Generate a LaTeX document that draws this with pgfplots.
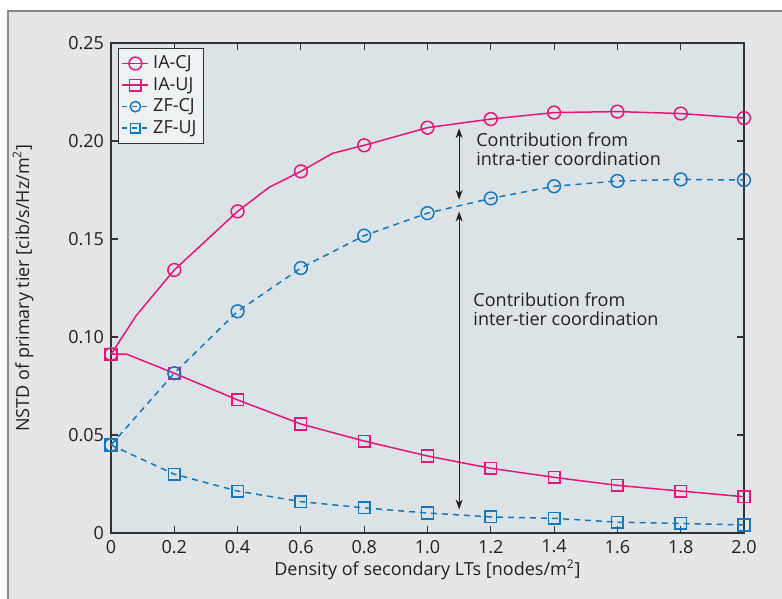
\documentclass[border=0pt]{standalone}
\usepackage{pgfplots}
\pgfplotsset{compat=1.18}
\usepackage{fontspec}
\setmainfont{Open Sans}
\usetikzlibrary{arrows.meta}
\definecolor{outerbg}{HTML}{E5E6E7}
\definecolor{plotbg}{HTML}{DBE3E6}
\definecolor{legbg}{HTML}{EEF2F3}
\definecolor{framegray}{HTML}{8A8A8A}
\definecolor{axgray}{HTML}{333333}
\definecolor{txt}{HTML}{231F20}
\definecolor{mag}{HTML}{E5167A}
\definecolor{blu}{HTML}{1478C0}
\begin{document}
\begin{tikzpicture}
\useasboundingbox (-55.5pt,-33pt) rectangle (335.5pt,266.5pt);
\draw[fill=outerbg, draw=framegray, line width=0.9pt] (-51.5pt,-45pt) rectangle (345pt,261pt);
\begin{axis}[
  at={(0,0)}, anchor=south west,
  scale only axis, width=316.5pt, height=245pt,
  xmin=0, xmax=2.0, ymin=0, ymax=0.25,
  axis background/.style={fill=plotbg},
  axis line style={axgray, line width=0.6pt},
  tick style={axgray, line width=0.6pt},
  tick align=inside, major tick length=3.5pt,
  xtick={0,0.2,0.4,0.6,0.8,1.0,1.2,1.4,1.6,1.8,2.0},
  xticklabels={0,0.2,0.4,0.6,0.8,1.0,1.2,1.4,1.6,1.8,2.0},
  ytick={0,0.05,0.10,0.15,0.20,0.25},
  yticklabels={0,0.05,0.10,0.15,0.20,0.25},
  /pgf/number format/assume math mode=true,
  font=\fontsize{9}{11}\selectfont\color{txt},
  ticklabel style={font=\fontsize{9}{11}\selectfont\color{txt}},
  xlabel={Density of secondary LTs [nodes/m\textsuperscript{2}]},
  ylabel={NSTD of primary tier [cib/s/Hz/m\textsuperscript{2}]},
  xlabel style={at={(axis description cs:0.5,-0.0755)}, anchor=center},
  ylabel style={at={(axis description cs:-0.139,0.5)}, anchor=center},
  legend style={at={(rel axis cs:0.011,0.99)}, anchor=north west,
    draw=axgray, fill=legbg, line width=0.6pt, inner sep=1.5pt,
    font=\fontsize{9}{10}\selectfont\color{txt}, row sep=-1.2pt},
  legend cell align=left,
  legend image code/.code={\draw[mark repeat=2,mark phase=2,#1] plot coordinates {(0cm,0cm) (0.23cm,0cm) (0.46cm,0cm)};},
]
\addplot[mag, line width=0.75pt, mark=o, mark size=3.2pt, forget plot,
  mark indices={1,3,4,6,8,9,10,11,12,13,14}] coordinates {
(0,0.0912) (0.08,0.111) (0.2,0.1342) (0.4,0.1641) (0.5,0.1764) (0.6,0.1845) (0.7,0.1937) (0.8,0.1978) (1.0,0.2068) (1.2,0.2112) (1.4,0.2145) (1.6,0.2150) (1.8,0.2140) (2.0,0.2117)};
\addplot[mag, line width=0.75pt, mark=square, mark size=2.9pt, forget plot,
  mark indices={1,3,4,5,6,7,8,9,10,11,12}] coordinates {
(0,0.0912) (0.05,0.0912) (0.2,0.0815) (0.4,0.0679) (0.6,0.0556) (0.8,0.0469) (1.0,0.0393) (1.2,0.0330) (1.4,0.0284) (1.6,0.0243) (1.8,0.0214) (2.0,0.0185)};
\addplot[blu, line width=0.75pt, dash pattern=on 3pt off 2.5pt, mark=o, mark size=3.2pt, mark options={solid}, forget plot] coordinates {
(0,0.0449) (0.2,0.0815) (0.4,0.1131) (0.6,0.1352) (0.8,0.1517) (1.0,0.1632) (1.2,0.1707) (1.4,0.1769) (1.6,0.1796) (1.8,0.1804) (2.0,0.1801)};
\addplot[blu, line width=0.75pt, dash pattern=on 3pt off 2.5pt, mark=square, mark size=2.9pt, mark options={solid}, forget plot] coordinates {
(0,0.0449) (0.2,0.0300) (0.4,0.0214) (0.6,0.0160) (0.8,0.0128) (1.0,0.0102) (1.2,0.0082) (1.4,0.0075) (1.6,0.0055) (1.8,0.0049) (2.0,0.0041)};
\addlegendimage{mag, line width=0.75pt, mark=o, mark size=3.2pt}
\addlegendentry{IA-CJ}
\addlegendimage{mag, line width=0.75pt, mark=square, mark size=2.9pt}
\addlegendentry{IA-UJ}
\addlegendimage{blu, line width=0.75pt, dash pattern=on 2.5pt off 2.5pt, mark=o, mark size=2.6pt, mark options={solid}}
\addlegendentry{ZF-CJ}
\addlegendimage{blu, line width=0.75pt, dash pattern=on 2.5pt off 2.5pt, mark=square, mark size=2.4pt, mark options={solid}}
\addlegendentry{ZF-UJ}
\draw[txt, line width=0.6pt, {Stealth[length=5pt,width=3.5pt]}-{Stealth[length=5pt,width=3.5pt]}] (axis cs:1.10,0.2065) -- (axis cs:1.10,0.1700);
\draw[txt, line width=0.6pt, {Stealth[length=5pt,width=3.5pt]}-{Stealth[length=5pt,width=3.5pt]}] (axis cs:1.10,0.1640) -- (axis cs:1.10,0.0120);
\node[anchor=west, align=left, inner sep=0pt, font=\fontsize{9}{9.5}\selectfont, text=txt] at (axis cs:1.153,0.196) {Contribution from\\intra-tier coordination};
\node[anchor=west, align=left, inner sep=0pt, font=\fontsize{9}{9.5}\selectfont, text=txt] at (axis cs:1.144,0.1143) {Contribution from\\inter-tier coordination};
\end{axis}
\end{tikzpicture}
\end{document}
